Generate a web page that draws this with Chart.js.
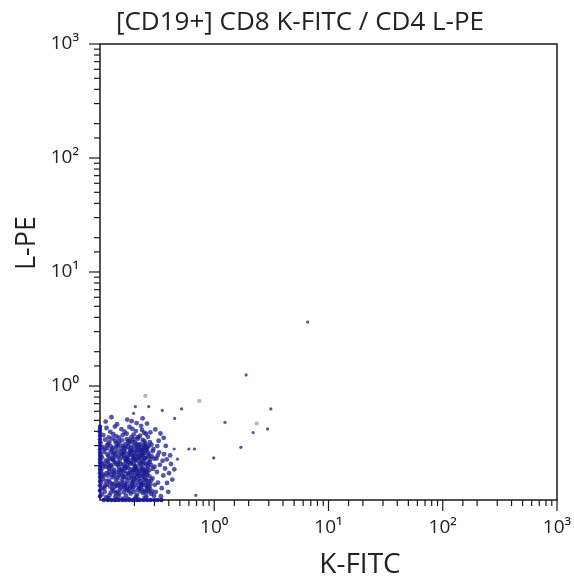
<!DOCTYPE html>
<html>
<head>
<meta charset="utf-8">
<script src="https://cdn.jsdelivr.net/npm/chart.js@4.4.1/dist/chart.umd.min.js"></script>
<style>
  body { margin: 0; background: #fff; }
  canvas { display: block; }
</style>
</head>
<body>
<canvas id="plot" width="574" height="582"></canvas>
<script>
const chartTitle = "[CD19+] CD8 K-FITC / CD4 L-PE";
const xTitle = "K-FITC";
const yTitle = "L-PE";
const axisMin = 0.1;
const axisMax = 1000;
const decadeLabels = { 1: "10⁰", 10: "10¹", 100: "10²", 1000: "10³" };

// main population, [K-FITC, L-PE]
const clusterPoints = [
  [0.104,0.112],[0.118,0.104],[0.131,0.121],[0.145,0.108],[0.162,0.117],[0.178,0.102],[0.193,0.126],[0.211,0.111],
  [0.227,0.119],[0.246,0.105],[0.262,0.123],[0.281,0.113],[0.109,0.127],[0.124,0.116],[0.139,0.101],[0.153,0.129],
  [0.169,0.109],[0.186,0.114],[0.202,0.103],[0.219,0.128],[0.238,0.115],[0.255,0.108],[0.274,0.126],[0.113,0.106],
  [0.128,0.125],[0.142,0.118],[0.158,0.103],[0.174,0.122],[0.197,0.118],[0.207,0.107],[0.232,0.124],[0.251,0.117],
  [0.297,0.109],[0.121,0.110],[0.148,0.114],[0.183,0.128],[0.215,0.101],[0.268,0.118],[0.136,0.107],[0.166,0.125],
  [0.102,0.142],[0.115,0.136],[0.127,0.158],[0.141,0.133],[0.156,0.149],[0.171,0.138],[0.188,0.162],[0.204,0.135],
  [0.221,0.153],[0.239,0.141],[0.257,0.166],[0.276,0.137],[0.107,0.161],[0.119,0.148],[0.133,0.139],[0.147,0.165],
  [0.163,0.131],[0.179,0.155],[0.195,0.144],[0.213,0.168],[0.229,0.132],[0.248,0.157],[0.266,0.146],[0.111,0.134],
  [0.125,0.167],[0.138,0.151],[0.152,0.137],[0.167,0.159],[0.184,0.133],[0.199,0.152],[0.217,0.140],[0.234,0.163],
  [0.253,0.134],[0.288,0.155],[0.105,0.153],[0.122,0.143],[0.144,0.157],[0.159,0.142],[0.175,0.169],[0.191,0.138],
  [0.208,0.159],[0.225,0.146],[0.243,0.151],[0.261,0.139],[0.116,0.164],[0.135,0.131],[0.173,0.147],[0.201,0.166],
  [0.236,0.136],[0.271,0.161],
  [0.103,0.184],[0.114,0.172],[0.126,0.199],[0.139,0.176],[0.151,0.208],[0.164,0.181],[0.177,0.214],[0.192,0.174],
  [0.206,0.196],[0.223,0.179],[0.241,0.211],[0.258,0.187],[0.279,0.203],[0.108,0.207],[0.121,0.189],[0.134,0.216],
  [0.146,0.193],[0.161,0.173],[0.172,0.201],[0.187,0.186],[0.203,0.219],[0.218,0.171],[0.235,0.192],[0.252,0.177],
  [0.272,0.215],[0.112,0.195],[0.129,0.178],[0.143,0.204],[0.157,0.188],[0.169,0.218],[0.182,0.175],[0.198,0.205],
  [0.214,0.188],[0.231,0.213],[0.247,0.182],[0.264,0.198],[0.101,0.176],[0.117,0.218],[0.132,0.185],[0.149,0.173],
  [0.165,0.196],[0.185,0.209],[0.209,0.178],[0.227,0.201],[0.244,0.174],[0.291,0.188],[0.106,0.197],[0.137,0.207],
  [0.154,0.182],[0.176,0.191],[0.195,0.182],[0.221,0.209],[0.238,0.186],[0.259,0.172],[0.124,0.203],
  [0.104,0.236],[0.116,0.251],[0.128,0.227],[0.141,0.268],[0.155,0.241],[0.168,0.223],[0.181,0.259],[0.196,0.233],
  [0.212,0.274],[0.228,0.246],[0.245,0.229],[0.263,0.262],[0.284,0.241],[0.109,0.264],[0.122,0.231],[0.136,0.249],
  [0.149,0.226],[0.162,0.271],[0.174,0.238],[0.189,0.252],[0.205,0.228],[0.222,0.263],[0.239,0.239],[0.256,0.276],
  [0.113,0.222],[0.127,0.277],[0.142,0.237],[0.158,0.255],[0.171,0.229],[0.186,0.268],[0.201,0.243],[0.217,0.224],
  [0.233,0.257],[0.251,0.233],[0.269,0.249],[0.102,0.248],[0.119,0.242],[0.133,0.261],[0.147,0.248],[0.163,0.233],
  [0.179,0.247],[0.193,0.274],[0.209,0.256],[0.226,0.235],[0.242,0.268],[0.131,0.224],[0.166,0.262],[0.199,0.226],
  [0.236,0.249],[0.298,0.231],
  [0.105,0.292],[0.118,0.311],[0.131,0.286],[0.145,0.327],[0.159,0.298],[0.172,0.341],[0.187,0.289],[0.203,0.318],
  [0.219,0.302],[0.236,0.336],[0.254,0.294],[0.273,0.321],[0.111,0.338],[0.124,0.296],[0.138,0.316],[0.152,0.283],
  [0.167,0.309],[0.183,0.331],[0.197,0.297],[0.214,0.344],[0.231,0.287],[0.249,0.313],[0.267,0.298],[0.101,0.318],
  [0.115,0.284],[0.128,0.347],[0.143,0.301],[0.156,0.334],[0.176,0.294],[0.192,0.323],[0.208,0.283],[0.225,0.309],
  [0.242,0.293],[0.121,0.324],[0.162,0.288],[0.198,0.341],[0.282,0.306],[0.135,0.332],[0.179,0.313],[0.245,0.329],
  [0.107,0.371],[0.123,0.396],[0.139,0.362],[0.154,0.418],[0.171,0.381],[0.188,0.356],[0.206,0.402],[0.224,0.367],
  [0.243,0.389],[0.262,0.358],[0.114,0.428],[0.131,0.378],[0.147,0.352],[0.164,0.397],[0.181,0.437],[0.197,0.374],
  [0.215,0.356],[0.233,0.412],[0.253,0.381],[0.119,0.354],[0.158,0.371],[0.192,0.421],[0.276,0.392],[0.135,0.441],
  [0.229,0.447],
  [0.112,0.487],[0.141,0.462],[0.173,0.508],[0.209,0.473],[0.236,0.521],[0.126,0.532],[0.258,0.468],[0.189,0.491],
  [0.308,0.118],[0.322,0.142],[0.315,0.176],[0.334,0.203],[0.347,0.127],[0.312,0.231],[0.358,0.164],[0.329,0.262],
  [0.371,0.189],[0.341,0.108],[0.386,0.141],[0.317,0.297],[0.353,0.221],[0.402,0.172],[0.364,0.252],[0.326,0.331],
  [0.395,0.118],[0.418,0.207],[0.338,0.383],[0.376,0.298],[0.305,0.416],[0.429,0.151],[0.361,0.351],[0.411,0.246],
  [0.384,0.227],[0.447,0.186]
];

// densest part of the population
const corePoints = [
  [0.110,0.118],[0.123,0.131],[0.137,0.115],[0.150,0.124],[0.165,0.135],[0.180,0.119],[0.196,0.131],[0.213,0.122],
  [0.230,0.137],[0.249,0.121],[0.266,0.131],[0.285,0.119],[0.106,0.168],[0.120,0.177],[0.134,0.162],[0.148,0.183],
  [0.161,0.158],[0.177,0.171],[0.190,0.155],[0.205,0.183],[0.220,0.162],[0.237,0.171],[0.254,0.149],[0.270,0.182],
  [0.103,0.214],[0.117,0.205],[0.130,0.233],[0.145,0.214],[0.160,0.205],[0.173,0.226],[0.188,0.211],[0.203,0.197],
  [0.219,0.235],[0.236,0.219],[0.252,0.205],[0.275,0.228],[0.109,0.281],[0.124,0.265],[0.139,0.291],[0.153,0.264],
  [0.168,0.287],[0.183,0.276],[0.199,0.262],[0.214,0.291],[0.232,0.271],[0.250,0.281],[0.262,0.241],[0.289,0.268],
  [0.112,0.147],[0.128,0.138],[0.143,0.142],[0.157,0.163],[0.172,0.128],[0.189,0.143],[0.205,0.149],[0.222,0.128],
  [0.240,0.161],[0.258,0.129],[0.280,0.148],[0.302,0.136],[0.105,0.128],[0.119,0.193],[0.133,0.171],[0.146,0.136],
  [0.170,0.192],[0.184,0.222],[0.200,0.187],[0.215,0.244],[0.230,0.184],[0.246,0.258],[0.263,0.213],[0.300,0.196],
  [0.115,0.302],[0.130,0.251],[0.148,0.311],[0.163,0.247],[0.178,0.327],[0.194,0.242],[0.210,0.309],[0.227,0.276],
  [0.244,0.305],[0.261,0.287],[0.293,0.279],[0.320,0.246]
];

// events piled on the low edges of both axes
const edgePoints = [
  [0.1,0.108],[0.1,0.121],[0.1,0.134],[0.1,0.147],[0.1,0.159],[0.1,0.172],[0.1,0.186],[0.1,0.199],[0.1,0.213],
  [0.1,0.228],[0.1,0.244],[0.1,0.261],[0.1,0.279],[0.1,0.298],[0.1,0.318],[0.1,0.341],[0.1,0.366],[0.1,0.392],
  [0.1,0.415],[0.1,0.44],
  [0.108,0.1],[0.117,0.1],[0.126,0.1],[0.135,0.1],[0.146,0.1],[0.157,0.1],[0.168,0.1],[0.181,0.1],[0.194,0.1],
  [0.209,0.1],[0.224,0.1],[0.241,0.1],[0.259,0.1],[0.278,0.1],[0.299,0.1],[0.321,0.1],[0.345,0.1]
];

const outlierPoints = [
  [6.57,3.64],[1.90,1.25],[3.13,0.63],[1.24,0.48],[2.19,0.39],[2.93,0.42],[0.517,0.63],[1.71,0.29],
  [0.60,0.28],[0.67,0.28],[0.99,0.234],[0.69,0.11],[0.204,0.66],[0.267,0.66],[0.351,0.61],[0.197,0.576],
  [0.45,0.52],[0.476,0.228],[0.446,0.28]
];

const faintPoints = [[0.25,0.82],[0.74,0.74],[2.35,0.47]];

const fontFamily = '"Open Sans", "DejaVu Sans", sans-serif';
const textColor = "#222";

function toXY(list) {
  return list.map(p => ({ x: p[0], y: p[1] }));
}

// frame + tick marks, drawn before the dots so dots sit on the axes
const framePlugin = {
  id: "frame",
  beforeDatasetsDraw(chart) {
    const ctx = chart.ctx;
    const a = chart.chartArea;
    ctx.save();
    ctx.strokeStyle = "#1a1a1a";
    ctx.lineWidth = 1.5;
    ctx.strokeRect(a.left, a.top, a.right - a.left, a.bottom - a.top);
    ctx.lineWidth = 1.2;
    chart.scales.x.ticks.forEach(t => {
      if (t.value <= axisMin) return;
      const px = chart.scales.x.getPixelForValue(t.value);
      const len = decadeLabels[t.value] ? 11 : 6;
      ctx.beginPath();
      ctx.moveTo(px, a.bottom);
      ctx.lineTo(px, a.bottom + len);
      ctx.stroke();
    });
    chart.scales.y.ticks.forEach(t => {
      if (t.value <= axisMin) return;
      const py = chart.scales.y.getPixelForValue(t.value);
      const len = decadeLabels[t.value] ? 11 : 6;
      ctx.beginPath();
      ctx.moveTo(a.left, py);
      ctx.lineTo(a.left - len, py);
      ctx.stroke();
    });
    ctx.restore();
  },
  afterDraw(chart) {
    const ctx = chart.ctx;
    ctx.save();
    ctx.fillStyle = textColor;
    ctx.textAlign = "center";
    ctx.textBaseline = "middle";
    ctx.font = "26px " + fontFamily;
    ctx.fillText(chartTitle, 300, 23);
    ctx.font = "28px " + fontFamily;
    ctx.fillText(xTitle, 360, 565);
    ctx.translate(27, 243);
    ctx.rotate(-Math.PI / 2);
    ctx.font = "27px " + fontFamily;
    ctx.fillText(yTitle, 0, 0);
    ctx.restore();
  }
};

function logAxis(isX) {
  return {
    type: "logarithmic",
    min: axisMin,
    max: axisMax,
    grid: { display: false, drawTicks: false },
    border: { display: false },
    ticks: {
      autoSkip: false,
      maxRotation: 0,
      padding: isX ? 16 : 21,
      color: textColor,
      font: { family: fontFamily, size: 19 },
      callback: function (value) {
        return decadeLabels[value] || "";
      }
    },
    afterFit: function (scale) {
      if (isX) {
        scale.height = 82;
        scale.paddingLeft = 0;
        scale.paddingRight = 0;
      } else {
        scale.width = 100;
        scale.paddingTop = 0;
        scale.paddingBottom = 0;
      }
    }
  };
}

const ctx = document.getElementById("plot").getContext("2d");
const plot = new Chart(ctx, {
  type: "scatter",
  data: {
    datasets: [
      { data: toXY(faintPoints), backgroundColor: "rgba(150,150,200,0.7)", pointRadius: 2.2, borderWidth: 0, clip: false },
      { data: toXY(outlierPoints), backgroundColor: "rgba(40,40,150,0.8)", pointRadius: 1.6, borderWidth: 0, clip: false },
      { data: toXY(clusterPoints), backgroundColor: "rgba(28,28,145,0.75)", pointRadius: 2.4, borderWidth: 0, clip: false },
      { data: toXY(corePoints), backgroundColor: "rgba(28,28,145,0.75)", pointRadius: 2.4, borderWidth: 0, clip: false },
      { data: toXY(edgePoints), backgroundColor: "rgba(20,20,160,0.9)", pointRadius: 2.2, borderWidth: 0, clip: false }
    ]
  },
  options: {
    responsive: false,
    animation: false,
    layout: { padding: { top: 44, right: 17, left: 0, bottom: 0 } },
    plugins: { legend: { display: false }, tooltip: { enabled: false } },
    scales: { x: logAxis(true), y: logAxis(false) }
  },
  plugins: [framePlugin]
});
</script>
</body>
</html>
